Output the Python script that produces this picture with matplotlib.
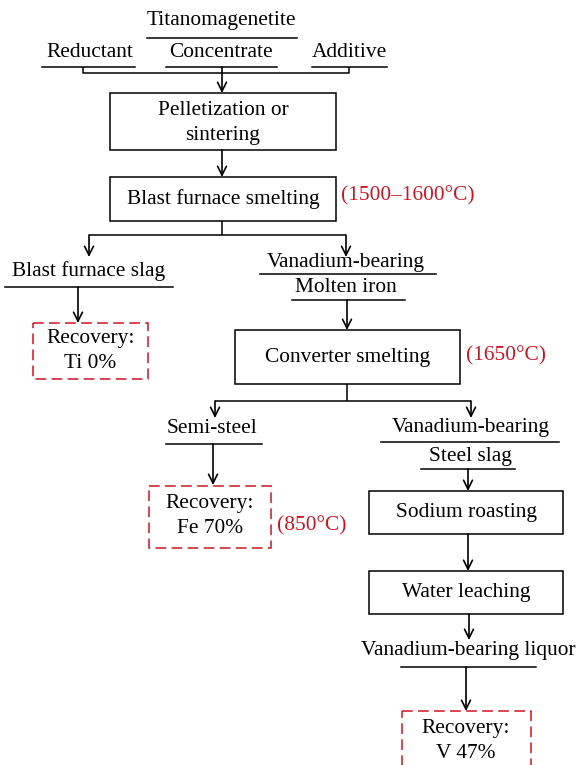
import matplotlib.pyplot as plt
from matplotlib.patches import Rectangle

# node labels
feed_labels = ['Reductant', 'Concentrate', 'Additive']
ore_label = 'Titanomagenetite'
process_labels = ['Pelletization or\nsintering', 'Blast furnace smelting', 'Converter smelting',
                  'Sodium roasting', 'Water leaching']
product_labels = ['Blast furnace slag', 'Vanadium-bearing', 'Molten iron', 'Semi-steel',
                  'Vanadium-bearing', 'Steel slag', 'Vanadium-bearing liquor']
recovery_labels = ['Recovery:\nTi 0%', 'Recovery:\nFe 70%', 'Recovery:\nV 47%']
temp_labels = ['(1500\u20131600\u00b0C)', '(1650\u00b0C)', '(850\u00b0C)']

RED = '#cc1423'
FS = 15.4
GAP = 25  # distance between two text lines, px
plt.rcParams['font.family'] = ['Liberation Serif', 'DejaVu Serif']

fig = plt.figure(figsize=(5.77, 7.65), dpi=100)
ax = fig.add_axes([0, 0, 1, 1])
ax.set_xlim(0, 577)
ax.set_ylim(765, 0)
ax.axis('off')

def txt(x, y, s, color='k', ha='center'):
    rows = s.split('\n')
    y0 = y - GAP * (len(rows) - 1) / 2
    for i, r in enumerate(rows):
        ax.text(x, y0 + i * GAP, r, ha=ha, va='center', fontsize=FS, color=color)

def uline(x0, x1, y):
    ax.plot([x0, x1], [y, y], color='k', lw=1.1)

def line(xs, ys):
    ax.plot(xs, ys, color='k', lw=1.1, solid_capstyle='butt')

def arrow(x, y0, y1):
    ax.annotate('', xy=(x, y1), xytext=(x, y0),
                arrowprops=dict(arrowstyle='->', lw=1.2, color='k',
                                shrinkA=0, shrinkB=0, mutation_scale=16))

def box(x0, y0, x1, y1, s, red=False, ty=None):
    if red:
        ax.add_patch(Rectangle((x0, y0), x1 - x0, y1 - y0, fill=False, ec=RED,
                               lw=1.1, ls=(0, (7, 3.5))))
    else:
        ax.add_patch(Rectangle((x0, y0), x1 - x0, y1 - y0, fill=False, ec='k', lw=1.1))
    txt((x0 + x1) / 2, (y0 + y1) / 2 if ty is None else ty, s)

# raw materials
txt(221, 20, ore_label)
uline(147, 297, 38)
for s, cx, (u0, u1) in zip(feed_labels, [90, 221, 349], [(42, 135), (166, 277), (312, 387)]):
    txt(cx, 52, s)
    uline(u0, u1, 67)
line([83, 83, 349, 349], [67, 73, 73, 67])
arrow(222, 67, 93)

box(110, 93, 336, 150, process_labels[0], ty=123)
arrow(222, 150, 177)
box(110, 177, 336, 221, process_labels[1])
txt(341, 196, temp_labels[0], color=RED, ha='left')

# split after blast furnace
line([222, 222], [221, 235])
line([89, 346], [235, 235])
arrow(89, 235, 257)
arrow(346, 235, 257)

txt(89, 271, product_labels[0])
uline(5, 173, 287)
arrow(78, 287, 323)
box(33, 323, 148, 379, recovery_labels[0], red=True, ty=351)

txt(346, 262, product_labels[1])
uline(260, 436, 274)
txt(346, 287, product_labels[2])
uline(292, 405, 300)
arrow(347, 300, 330)

box(235, 330, 460, 384, process_labels[2])
txt(466, 356, temp_labels[1], color=RED, ha='left')

# split after converter
line([347, 347], [384, 401])
line([215, 471], [401, 401])
arrow(215, 401, 418)
arrow(471, 401, 418)

txt(212, 428, product_labels[3])
uline(166, 262, 444)
arrow(213, 444, 485)
box(149, 486, 271, 548, recovery_labels[1], red=True, ty=516)
txt(277, 526, temp_labels[2], color=RED, ha='left')

txt(471, 427, product_labels[4])
uline(381, 559, 442)
txt(470, 456, product_labels[5])
uline(421, 515, 469)
arrow(468, 469, 491)

box(369, 491, 563, 534, process_labels[3])
arrow(468, 534, 571)
box(369, 571, 563, 614, process_labels[4])
arrow(469, 614, 640)

txt(468, 650, product_labels[6])
uline(401, 536, 667)
arrow(466, 667, 711)
box(402, 711, 531, 770, '', red=True)
txt(466, 741, recovery_labels[2])

fig.savefig('out.png', dpi=100, facecolor='white')
